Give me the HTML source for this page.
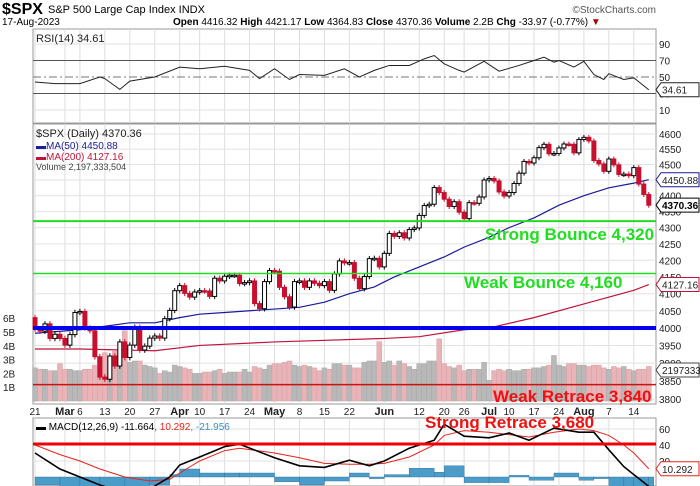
<!DOCTYPE html>
<html><head><meta charset="utf-8">
<style>
body{margin:0;background:#fff;}
svg{display:block;font-family:"Liberation Sans",sans-serif;}
</style></head>
<body>
<svg id="c" width="700" height="486" viewBox="0 0 700 486" xmlns="http://www.w3.org/2000/svg">
<g>
<text x="2" y="14" font-size="16" font-weight="bold">$SPX</text>
<text x="48" y="13" font-size="11">S&amp;P 500 Large Cap Index  INDX</text>
<text x="656" y="13" font-size="10" fill="#555" text-anchor="end">©StockCharts.com</text>
<text x="2" y="25" font-size="10">17-Aug-2023</text>
<text x="173" y="25" font-size="10"><tspan font-weight="bold">Open</tspan> 4416.32 <tspan font-weight="bold">High</tspan> 4421.17 <tspan font-weight="bold">Low</tspan> 4364.83 <tspan font-weight="bold">Close</tspan> 4370.36 <tspan font-weight="bold">Volume</tspan> 2.2B <tspan font-weight="bold">Chg</tspan> -33.97 (-0.77%) <tspan fill="#a00">▼</tspan></text>
</g>
<g id="grid"></g>
<g id="marks"></g>
<g id="overlay"></g>
</svg>
<script>
const closes=[3997,3991,4012,3970,3982,3970,
3951,3981,4045,4048,4000,3992,3918,3861,3855,3920,3892,3960,3916,3951,4002,3937,3948,3971,3977,3971,4027,4051,4109,
4124,4101,4090,4105,4109,4108,4092,4146,4138,4152,4155,4155,4130,4133,4138,4071,4056,4136,4169,
4167,4119,4091,4061,4136,4138,4119,4138,4131,4124,4136,4110,4159,4198,4192,4193,4146,4115,4151,4205,4206,4180,
4221,4282,4273,4284,4268,4294,4299,4338,4369,4373,4426,4410,4389,4366,4381,4348,4328,4378,4376,4396,4450,
4455,4447,4412,4399,4410,4439,4472,4510,4505,4522,4555,4566,4535,4536,4554,4567,4566,4538,4582,4589,
4577,4513,4502,4478,4518,4499,4468,4469,4464,4490,4437,4404,4370];
const volumes=[2.4,2.3,2.3,2.2,2.2,2.7,
2.3,2.3,2.2,2.2,2.3,2.3,2.6,3.1,3.5,3.0,3.6,3.2,5.1,2.8,2.9,2.9,2.6,2.5,2.4,2.0,2.2,2.1,2.6,
2.5,2.4,2.3,2.0,2.0,2.1,2.1,2.2,2.3,2.0,2.1,2.1,2.1,2.3,2.1,2.5,2.4,2.3,2.6,
2.7,2.7,2.8,2.9,2.6,2.5,2.6,2.5,2.4,2.2,2.4,2.3,2.7,2.7,2.6,2.6,2.4,2.4,2.8,2.9,2.9,4.3,
2.8,2.9,2.6,2.9,2.7,2.5,2.3,2.7,2.7,2.9,2.9,4.5,2.7,2.5,2.4,2.6,2.2,2.3,2.3,2.3,2.8,
1.5,2.2,2.3,2.2,2.3,2.2,2.2,2.3,2.3,2.4,2.4,2.5,2.6,3.3,2.6,2.5,2.7,2.7,2.6,2.6,
2.5,2.6,2.6,2.4,2.3,2.5,2.4,2.5,2.3,2.2,2.3,2.3,2.5];
const ma50Idx=[0,9,14,19,24,29,33,38,43,48,53,58,63,68,72,77,82,86,91,95,100,105,110,115,120,123];
const ma50Val=[3985,3995,4005,4015,4015,4030,4040,4045,4050,4055,4060,4075,4100,4120,4150,4180,4210,4240,4270,4300,4330,4370,4400,4425,4440,4451];
const ma200Idx=[0,9,24,33,48,70,77,86,91,100,110,120,123];
const ma200Val=[3940,3940,3935,3950,3960,3970,3975,3995,4000,4030,4070,4110,4127];
const rsiIdx=[0,4,9,13,14,17,19,24,29,33,38,43,45,48,51,53,58,62,65,68,71,75,78,80,82,85,86,90,93,97,100,102,104,105,108,110,112,114,115,118,120,123];
const rsiVal=[44,42,42,50,48,35,45,50,62,60,63,58,48,60,47,53,52,60,50,58,64,64,72,76,66,58,56,69,57,64,70,74,68,70,62,69,53,47,54,47,49,34.6];
const macdIdx=[0,5,9,13,18,23,27,29,33,38,41,48,53,58,63,67,70,75,80,82,86,91,95,99,104,109,112,115,118,120,123];
const macdVal=[30,10,0,-10,-20,-15,0,15,25,38,41,24,14,12,21,14,20,36,46,66,51,49,55,46,61,56,56,34,13,3,-11.7];
const sigVal=[40,28,20,10,0,-5,-3,5,20,33,36,30,24,17,16,16,17,25,40,52,58,56,53,50,56,60,58,52,40,30,10.3];
const priceTicks=[3800,3850,3900,3950,4000,4050,4100,4150,4200,4250,4300,4350,4400,4450,4500,4550,4600];
const volTicks=[1,2,3,4,5,6];
const rsiTicks=[10,30,50,70,90];
const macdTicks=[20,40,60];
const xLabIdx=[0,6,9,14,19,24,29,33,38,43,48,53,58,63,70,77,82,86,91,95,100,105,110,115,120];
const xLabTxt=["21","Mar","6","13","20","27","Apr","10","17","24","May","8","15","22","Jun","12","20","26","Jul","10","17","24","Aug","7","14"];

const NS="http://www.w3.org/2000/svg";
const L=33,R=656;
const X=i=>35+i*4.99;
const PY=p=>328-1388*Math.log(p/4000);
const VY=v=>401-v*13.8;
const RY=v=>77-(v-50)*0.825;
const MY=v=>477-v*0.8;
function el(t,a,p){const e=document.createElementNS(NS,t);for(const k in a)e.setAttribute(k,a[k]);(p||document.getElementById('marks')).appendChild(e);return e;}
const G=document.getElementById('grid'),O=document.getElementById('overlay');

// panel frames
[[29,123],[124,404],[418,486]].forEach(([t,b],k)=>{
  const r=el('rect',{x:L,y:t,width:R-L,height:b-t,fill:'#fff',stroke:'#999','stroke-width':1},G);
  
  
});
// vertical grid
xLabIdx.forEach(i=>{
  [[29,123],[124,404],[418,486]].forEach(([t,b])=>{
    const l=el('line',{x1:X(i),x2:X(i),y1:t,y2:b,stroke:'#ddd'},G);
    
    
  });
});
// price grid and labels
priceTicks.forEach(p=>{
  const l=el('line',{x1:L,x2:R,y1:PY(p),y2:PY(p),stroke:'#e2e2e2'},G);
  
  
  const t=el('text',{x:659,y:PY(p)+4,'font-size':10,fill:'#222'},O);
  t.textContent=p;
  
  
});
volTicks.forEach(v=>{
  const t=el('text',{x:3,y:VY(v)+4,'font-size':10,fill:'#222'},O);
  t.textContent=v+'B';
  
  
});
rsiTicks.forEach(v=>{
  const t=el('text',{x:659,y:RY(v)+4,'font-size':10,fill:'#222'},O);
  t.textContent=v;
  
  
  const l=el('line',{x1:L,x2:R,y1:RY(v),y2:RY(v),stroke:(v==70||v==30)?'#555':(v==50?'#777':'#e2e2e2'),'stroke-dasharray':v==50?'8,3,2,3':''},G);
  
  
});
macdTicks.forEach(v=>{
  const t=el('text',{x:659,y:MY(v)+4,'font-size':10,fill:'#222'},O);
  t.textContent=v;
  
  
  const l=el('line',{x1:L,x2:R,y1:MY(v),y2:MY(v),stroke:'#e2e2e2'},G);
  
  
});
// x labels
xLabIdx.forEach((i,k)=>{
  const bold=isNaN(+xLabTxt[k]);
  const t=el('text',{x:X(i),y:415,'font-size':bold?11:10,'font-weight':bold?'bold':'normal','text-anchor':'middle',fill:'#222'},O);
  t.textContent=xLabTxt[k];
  
  
});
// volume bars
volumes.forEach((v,i)=>{
  const up=i==0||closes[i]>=closes[i-1];
  const b=el('rect',{x:X(i)-2.5,y:VY(v),width:5,height:401-VY(v),fill:up?'#b8b8b8':'#e8b4b8',stroke:up?'#a8a8a8':'#d9a0a6','stroke-width':0.5});
  
  
});
// MA lines
function poly(idx,val,fy,color,w,name){
  const p=el('polyline',{points:idx.map((i,k)=>X(i)+','+fy(val[k])).join(' '),fill:'none',stroke:color,'stroke-width':w});
  
  
}
poly(ma200Idx,ma200Val,PY,'#c0143c',1.2,'ma200-line');
poly(ma50Idx,ma50Val,PY,'#1a1a9a',1.2,'ma50-line');
// candles
closes.forEach((c,i)=>{
  const o=i==0?4030:closes[i-1];
  const up=c>=o;
  const col=up?'#000':'#c8102e';
  const hi=Math.max(o,c)+8,lo=Math.min(o,c)-8;
  const w=el('line',{x1:X(i),x2:X(i),y1:PY(hi),y2:PY(lo),stroke:col,'stroke-width':1});
  
  
  const top=PY(Math.max(o,c)),bot=PY(Math.min(o,c));
  const b=el('rect',{x:X(i)-2,y:top,width:4,height:Math.max(1.5,bot-top),fill:up?'#fff':col,stroke:col,'stroke-width':1});
  
  
});
// RSI
poly(rsiIdx,rsiVal,RY,'#222',1,'rsi-line');
// MACD histogram
macdIdx.forEach((i,k)=>{
  const h=macdVal[k]-sigVal[k];
  const nx=k<macdIdx.length-1?X(macdIdx[k+1]):X(i)+5;
  const y0=MY(0),y1=MY(h);
  const b=el('rect',{x:X(i),y:Math.min(y0,y1),width:nx-X(i),height:Math.abs(y1-y0),fill:'#4b9cc8',stroke:'#2a6f99','stroke-width':0.4});
  
  
});
poly(macdIdx,sigVal,MY,'#e8231c',1,'macd-signal-line');
poly(macdIdx,macdVal,MY,'#000',1.6,'macd-line');

// horizontal levels
function hl(p,y,color,w,name){const l=el('line',{x1:L,x2:R,y1:y,y2:y,stroke:color,'stroke-width':w},O);}
hl(4320,PY(4320),'#22dd22',2,'strong-bounce-line');
hl(4160,PY(4160),'#22dd22',1.5,'weak-bounce-line');
hl(4000,PY(4000),'#0000ee',4,'support-4000-line');
hl(3840,PY(3840),'#cc1111',1.5,'weak-retrace-line');
hl(3680,444,'#ee0000',3,'strong-retrace-line');
function tx(x,y,s,color,name,size,extra){const t=el('text',Object.assign({x:x,y:y,'font-size':size||17,'font-weight':'bold',fill:color},extra||{}),O);t.textContent=s;return t;}
tx(485,240,'Strong Bounce 4,320','#22dd22','strong-bounce-label');
tx(464,288,'Weak Bounce 4,160','#22dd22','weak-bounce-label');
tx(493,402,'Weak Retrace 3,840','#ee1111','weak-retrace-label');
tx(425,428,'Strong Retrace 3,680','#ee1111','strong-retrace-label');

// legends
tx(36,42,'RSI(14) 34.61','#222','rsi-legend',11,{'font-weight':'normal'});
tx(36,137,'$SPX (Daily) 4370.36','#222','price-legend',11,{'font-weight':'normal'});
tx(36,149,'▬MA(50) 4450.88','#1a1a9a','ma50-legend',10,{'font-weight':'normal'});
tx(36,160,'▬MA(200) 4127.16','#c0143c','ma200-legend',10,{'font-weight':'normal'});
tx(36,170,'Volume 2,197,333,504','#444','volume-legend',9,{'font-weight':'normal'});
const ml=el('text',{x:36,y:430,'font-size':10},O);
ml.innerHTML='<tspan fill="#000">▬ MACD(12,26,9) -11.664</tspan><tspan fill="#e8231c">, 10.292</tspan><tspan fill="#3a8fc0">, -21.956</tspan>';



// right value tags
function tag(y,s,color,bold,name){
  const g=el('g',{},O);
  
  
  el('path',{d:`M656 ${y} L661 ${y-7} L699 ${y-7} L699 ${y+7} L661 ${y+7} Z`,fill:'#fff',stroke:color,'stroke-width':1},g);
  const t=el('text',{x:662,y:y+4,'font-size':10,'font-weight':bold?'bold':'normal',fill:bold?'#000':'#222'},g);
  t.textContent=s;
}
tag(RY(34.61),'34.61','#222',false,'rsi-value-tag');
tag(PY(4450.88),'4450.88','#1a1a9a',false,'ma50-value-tag');
tag(PY(4370.36),'4370.36','#000',true,'close-value-tag');
tag(PY(4127.16),'4127.16','#c0143c',false,'ma200-value-tag');
tag(370,'2197333','#444',false,'volume-value-tag');
tag(MY(10.292),'10.292','#e8231c',false,'signal-value-tag');
</script>
</body></html>
